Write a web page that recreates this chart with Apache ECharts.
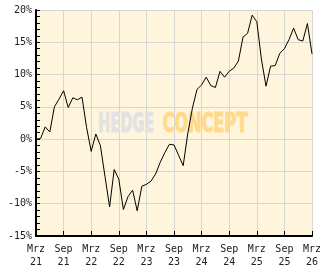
<!DOCTYPE html>
<html><head><meta charset="utf-8">
<script src="https://cdn.jsdelivr.net/npm/echarts@6/dist/echarts.min.js"></script>
<style>html,body{margin:0;padding:0;background:#fff}#c{width:332px;height:269px}</style>
</head><body><div id="c"></div>
<script>
var months = [
 "Mrz 21","Apr 21","Mai 21","Jun 21","Jul 21","Aug 21","Sep 21","Okt 21","Nov 21","Dez 21","Jan 22","Feb 22",
 "Mrz 22","Apr 22","Mai 22","Jun 22","Jul 22","Aug 22","Sep 22","Okt 22","Nov 22","Dez 22","Jan 23","Feb 23",
 "Mrz 23","Apr 23","Mai 23","Jun 23","Jul 23","Aug 23","Sep 23","Okt 23","Nov 23","Dez 23","Jan 24","Feb 24",
 "Mrz 24","Apr 24","Mai 24","Jun 24","Jul 24","Aug 24","Sep 24","Okt 24","Nov 24","Dez 24","Jan 25","Feb 25",
 "Mrz 25","Apr 25","Mai 25","Jun 25","Jul 25","Aug 25","Sep 25","Okt 25","Nov 25","Dez 25","Jan 26","Feb 26",
 "Mrz 26"
];
var performance = [
 0.0, 0.1, 1.9, 1.1, 5.0, 6.2, 7.5, 4.9, 6.4, 6.1, 6.5, 1.8,
 -1.9, 0.8, -1.0, -5.8, -10.5, -4.7, -6.2, -10.9, -8.9, -7.9, -11.1, -7.3,
 -7.0, -6.5, -5.4, -3.6, -2.1, -0.8, -0.9, -2.5, -4.1, 0.9, 4.8, 7.7,
 8.4, 9.6, 8.3, 8.0, 10.5, 9.6, 10.5, 11.0, 12.1, 15.8, 16.4, 19.2,
 18.2, 12.4, 8.2, 11.3, 11.4, 13.3, 14.0, 15.4, 17.2, 15.4, 15.2, 17.9,
 13.2
];
var yTicks = [-15, -10, -5, 0, 5, 10, 15, 20];
var watermark = ["HEDGE", "CONCEPT"];

var chart = echarts.init(document.getElementById('c'));
var font = '"DejaVu Sans Mono", monospace';
var yMin = yTicks[0], yMax = yTicks[yTicks.length - 1];
chart.setOption({
  animation: false,
  backgroundColor: '#ffffff',
  grid: {left: 36, right: 20, top: 10, bottom: 32, show: true, backgroundColor: '#FFF5DC', borderWidth: 0, z: 0},
  graphic: [
    {type: 'text', z: 1, left: 98, top: 112, scaleX: 0.62,
     style: {text: watermark[0], fill: '#e2e2e2', stroke: '#e2e2e2', lineWidth: 1.2, font: 'bold 26px "DejaVu Sans Condensed"'}},
    {type: 'text', z: 1, left: 162, top: 112, scaleX: 0.69,
     style: {text: watermark[1], fill: '#FFD98C', stroke: '#FFD98C', lineWidth: 1.2, font: 'bold 26px "DejaVu Sans Condensed"'}}
  ],
  xAxis: {
    type: 'category', data: months, boundaryGap: false,
    axisLine: {show: true, onZero: false, lineStyle: {color: '#000', width: 2}},
    axisTick: {show: true, inside: true, length: 5, interval: 5, lineStyle: {color: '#000', width: 1}},
    axisLabel: {interval: 5, color: '#222', fontFamily: font, fontSize: 10, lineHeight: 13, margin: 7,
      formatter: function (v) { return v.replace(' ', '\n'); }},
    splitLine: {show: true, interval: 5, lineStyle: {color: '#d6d6d6', width: 1}}
  },
  yAxis: [{
    type: 'value', min: yMin, max: yMax, interval: 5,
    axisLine: {show: true, onZero: false, lineStyle: {color: '#000', width: 2}},
    axisTick: {show: true, inside: true, length: 4, lineStyle: {color: '#000', width: 1}},
    axisLabel: {color: '#222', fontFamily: font, fontSize: 10, margin: 4,
      formatter: function (v) { return v + '%'; }},
    splitLine: {show: true, lineStyle: {color: '#d6d6d6', width: 1}}
  }, {
    type: 'value', min: yMin, max: yMax, interval: 1, position: 'left',
    axisLine: {show: false},
    axisTick: {show: true, inside: true, length: 4, lineStyle: {color: '#000', width: 1}},
    axisLabel: {show: false},
    splitLine: {show: false}
  }],
  series: [{
    type: 'line', data: performance, symbol: 'none', z: 3, yAxisIndex: 0,
    lineStyle: {color: '#000', width: 1}
  }]
});
</script></body></html>
